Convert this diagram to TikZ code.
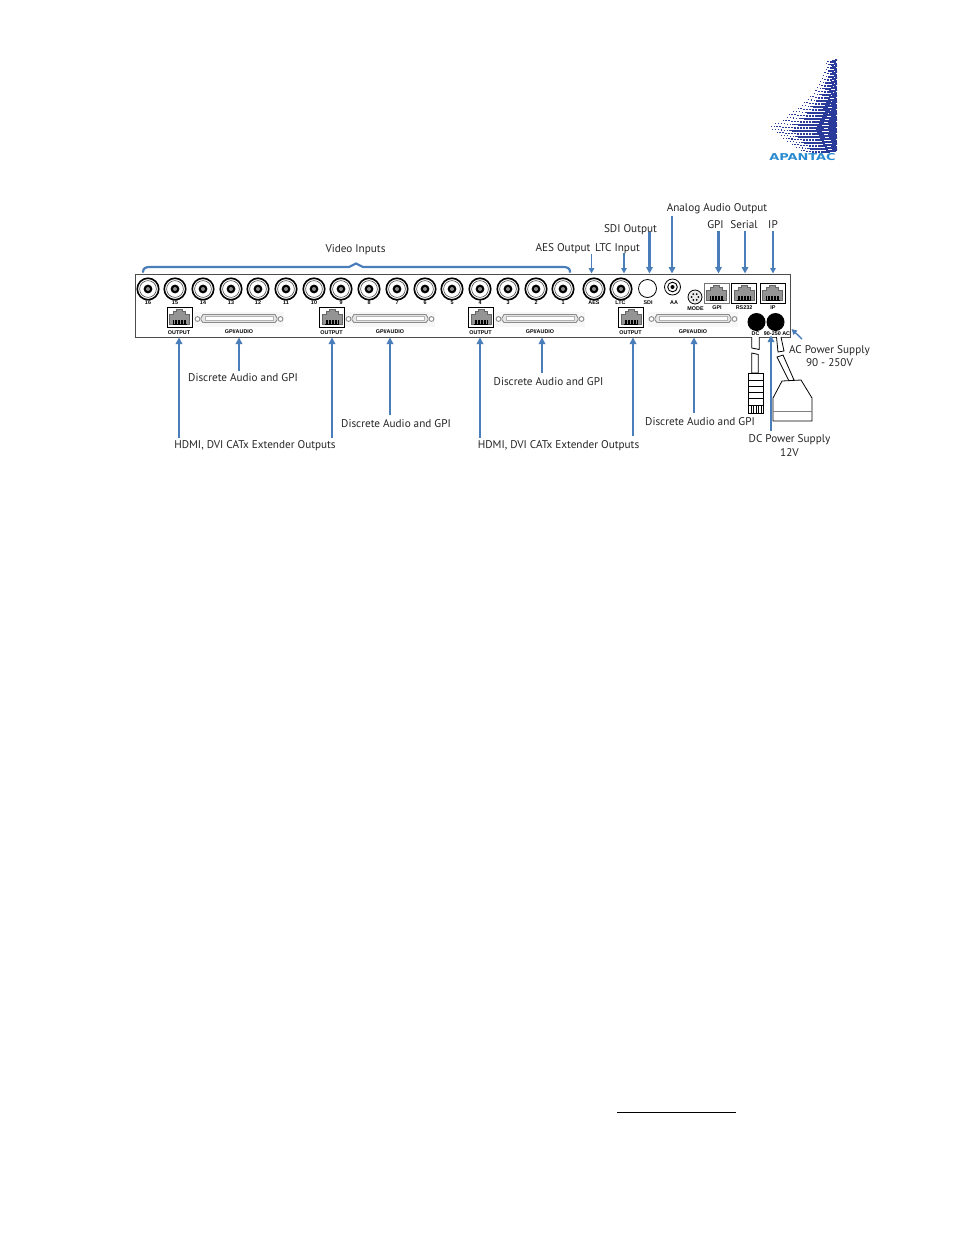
\documentclass[tikz,border=0pt]{standalone}
\usepackage{fontspec}
\setmainfont{PT Sans}
\newfontfamily\tinyf{Liberation Sans}
\newfontfamily\logof{DejaVu Sans}
\usetikzlibrary{arrows.meta}
\definecolor{arrowblue}{HTML}{4A7EBB}
\definecolor{logoblue}{HTML}{2A3A9A}
\definecolor{logocyan}{HTML}{2A8CD0}
\tikzset{
  lbl/.style={inner sep=0pt,yshift=-.8pt,font=\fontsize{11.2}{13}\selectfont,text=black!85},
  tiny/.style={inner sep=0pt,font=\tinyf\bfseries\fontsize{5.4}{6}\selectfont},
  arr/.style={arrowblue,line width=2.2pt,-{Triangle[length=6.5pt,width=6.5pt]}},
  thinarr/.style={arrowblue,line width=1.4pt,-{Triangle[length=5.5pt,width=5.5pt]}},
  jackbox/.style={draw=black,line width=1pt,fill=white,minimum width=25pt,minimum height=20pt,inner sep=0pt},
  bncnode/.style={circle,draw=black,line width=1.6pt,fill=white,minimum size=21.5pt,inner sep=0pt},
  cable/.style={draw=black,line width=.8pt,fill=white,line join=miter},
}
\newcommand{\bncat}[3]{%
  \node[bncnode] (#1) at (#2,#3) {};
  \draw[black!70,line width=.6pt] (#1) circle (8.4pt);
  \fill[black] (#1) circle (4.4pt);
  \fill[black!45] (#1) circle (2pt);
}
\newcommand{\jackat}[4][black]{%
  \node[jackbox,draw=#1] (#2) at (#3,#4) {};
  \begin{scope}[shift={(#3,#4)}]
    \draw[black!60,fill=black!42,line width=.4pt] (-10,7)--(-10,-3)--(-6,-3)--(-6,-5.5)--(-3,-5.5)--(-3,-7.5)--(3,-7.5)--(3,-5.5)--(6,-5.5)--(6,-3)--(10,-3)--(10,7)--cycle;
    \foreach \p in {-6,-4.5,...,6.1} \draw[black,line width=.55pt] (\p,3.2)--(\p,6.8);
    \draw[black,line width=.6pt] (-7,6.8)--(7,6.8);
  \end{scope}
}
\newcommand{\dsubat}[3]{%
  \node[fill=blue!4!black!3,minimum width=90pt,minimum height=15pt,inner sep=0pt] (#1) at (#2,#3) {};
  \begin{scope}[shift={(#2,#3)}]
    \draw[black!45,fill=white,line width=.9pt] (-41.5,0) circle (2.4pt) (41.5,0) circle (2.4pt);
    \draw[black!45,fill=black!10,line width=.9pt] (-38,-1)--(-36,-4.5)--(36,-4.5)--(38,-1)--(38,1)--(36,3.5)--(-36,3.5)--(-38,1)--cycle;
    \draw[black!30,fill=white,line width=.4pt] (-34,-2.5) rectangle (34,1.5);
  \end{scope}
}
\begin{document}
\begin{tikzpicture}[x=1pt,y=-1pt]
\useasboundingbox (0,0) rectangle (954,1235);
\fill[white] (0,0) rectangle (954,1235);

% logo halftone
\begin{scope}
\clip (760,59.5) rectangle (837,152);
\foreach \r in {0,...,30}{
  \pgfmathsetmacro{\v}{\r/30}
  \pgfmathsetmacro{\yr}{60+90*\v}
  \pgfmathsetmacro{\lx}{\v<=0.75 ? 826-58*(\v/0.75)*(\v/0.75) : 768+32*(\v-0.75)/0.25}
  \pgfmathsetmacro{\stag}{mod(\r,2)*1.5}
  \foreach \c in {0,...,24}{
    \pgfmathsetmacro{\xx}{837-\stag-3*\c}
    \ifdim \xx pt>\lx pt
      \pgfmathsetmacro{\u}{(837-\xx)/(837-\lx)}
      \pgfmathsetmacro{\sz}{3.4*(1-0.8*\u*\u)}
      \pgfmathsetmacro{\hh}{2.9*(1-0.75*\u)}
      \pgfmathsetmacro{\yy}{\yr+2*sin(180*\u)}
      \fill[logoblue] (\xx-\sz/2,\yy-\hh/2) rectangle (\xx+\sz/2,\yy+\hh/2);
    \fi
  }
}
\end{scope}
\node[inner sep=0pt,text=logocyan,xscale=1.36,font=\logof\bfseries\fontsize{9.5}{11}\selectfont] (logotext) at (802.5,157) {APANTAC};

% panel
\node[draw=black!70,line width=.9pt,fill=white,minimum width=655pt,minimum height=63pt,inner sep=0pt] (panel) at (463,305.5) {};

% BNC connectors
\foreach \n/\x in {16/148,15/175,14/203,13/231,12/258,11/286,10/314,9/341,8/369,7/397,6/425,5/452,4/480,3/508,2/536,1/563}{
  \bncat{b\n}{\x}{289}
  \node[tiny] (bl\n) at (\x,302.5) {\n};
}
\bncat{baes}{594}{289}
\node[tiny] (laes) at (594,302.5) {AES};
\bncat{bltc}{621}{289}
\node[tiny] (lltc) at (620.5,302.5) {LTC};
\node[circle,draw=black,line width=.8pt,minimum size=18pt,inner sep=0pt] (bsdi) at (647.5,288.5) {};
\node[tiny] (lsdi) at (648,302.5) {SDI};
\node[circle,draw=black,line width=.8pt,fill=white,minimum size=16pt,inner sep=0pt] (baa) at (672.5,287) {};
\draw[black,line width=.9pt] (baa) circle (4.8pt);
\fill[black] (baa) circle (2pt);
\node[tiny] (laa) at (674,302.5) {AA};
\node[circle,draw=black,line width=.8pt,fill=black!8,minimum size=14pt,inner sep=0pt] (mode) at (695,297) {};
\foreach \a in {0,60,...,300} \fill[black] (mode) ++(\a:3.4pt) circle (1pt);
\node[tiny] (lmode) at (695.5,308.5) {MODE};

% D connectors, then jacks over them
\foreach \n/\dx in {1/239,2/390,3/540,4/693}{
  \dsubat{ds\n}{\dx}{319}
  \node[tiny] (lds\n) at (\dx,331.5) {GPI/AUDIO};
}
\foreach \n/\x in {1/179.5,2/332,3/481,4/631}{
  \jackat{out\n}{\x}{317}
  \node[tiny] (lout\n) at (\x-.5,332.5) {OUTPUT};
}

% RJ45 jacks, upper
\jackat[black!55]{jgpi}{716.5}{293}
\node[tiny] (lgpi) at (717,308) {GPI};
\jackat{jrs}{744}{293}
\node[tiny] (lrs) at (744,308) {RS232};
\jackat{jip}{772.5}{293}
\node[tiny] (lip) at (773,308) {IP};

% Power sockets
\node[circle,fill=black,minimum size=18pt,inner sep=0pt] (dcs) at (756.5,322) {};
\node[circle,fill=black,minimum size=18pt,inner sep=0pt] (acs) at (775.5,322) {};

% cables
\draw[cable] (751.7,337)--(751.7,348)--(759.3,349.5)--(759.3,337);
\draw[cable] (751.7,353)--(758.3,354.5)--(758.3,373)--(751.7,373)--cycle;
\draw[cable] (748.5,373) rectangle (763.5,405);
\foreach \yy in {380,386,392,398} \draw[black,line width=.8pt] (748.5,\yy)--(763.5,\yy);
\draw[cable] (748.5,405) rectangle (763.5,413);
\foreach \xx in {751,753.5,756,758.5,761} \draw[black,line width=.8pt] (\xx,405)--(\xx,413);
\draw[cable] (776.5,337)--(778,352)--(784,351)--(781,337);
\draw[cable] (777,357)--(783,355)--(794,380)--(789,381)--cycle;
\draw[cable] (782,381)--(801,380)--(812,398)--(812,421)--(773,421)--(773,398)--cycle;
\draw[black!50,line width=.8pt] (773,411)--(812,411);

\node[tiny] (ldc) at (755.5,333.5) {DC};
\node[tiny] (lac) at (777,333.5) {90-250 AC};

% brace
\draw[arrowblue,line width=2.2pt,line cap=round] (143,272) .. controls (143,268) and (146,267) .. (150,267) -- (349,267) .. controls (352,267) and (353,263.5) .. (356,263.5) .. controls (359,263.5) and (360,267) .. (363,267) -- (563,267) .. controls (567,267) and (570,268) .. (570,272);

% labels
\node[lbl] (tvideo) at (355.5,249) {Video Inputs};
\node[lbl] (taes) at (563,248) {AES Output};
\node[lbl] (tltc) at (617.5,248) {LTC Input};
\node[lbl] (tsdi) at (630.5,229) {SDI Output};
\node[lbl] (taa) at (717,207.5) {Analog Audio Output};
\node[lbl] (tgpi) at (715.5,223.7) {GPI};
\node[lbl] (tser) at (744,223.7) {Serial};
\node[lbl] (tip) at (773,223.7) {IP};
\node[lbl,align=center] (tac) at (829.5,355) {AC Power Supply\\90 - 250V};
\node[lbl,align=center,font=\fontsize{11.2}{14}\selectfont] (tdc) at (789.5,444.5) {DC Power Supply\\12V};
\node[lbl] (td1) at (243,376.5) {Discrete Audio and GPI};
\node[lbl] (td2) at (396,422.5) {Discrete Audio and GPI};
\node[lbl] (td3) at (548.5,380.5) {Discrete Audio and GPI};
\node[lbl] (td4) at (700,420.5) {Discrete Audio and GPI};
\node[lbl] (th1) at (255,445) {HDMI, DVI CATx Extender Outputs};
\node[lbl] (th2) at (558.5,445) {HDMI, DVI CATx Extender Outputs};

% arrows up to the lower edge of the panel
\foreach \n/\x/\sy in {a/179/438,b/332/438,c/480/438,d/633/436,e/239/371,f/390/415,g/542/373,h/694/413}{
  \coordinate (up\n) at (\x,\sy);
  \coordinate (upe\n) at (\x,337.5);
  \draw[arr] (up\n) -- (upe\n);
}
\coordinate (updc) at (771,431);
\coordinate (updce) at (771,335.5);
\draw[arr] (updc) -- (updce);

% arrows down to the upper edge of the panel
\foreach \n/\x/\sy in {sdi/649.5/232,aa/672/216,gpi/718.5/231,ser/745/231}{
  \coordinate (dn\n) at (\x,\sy);
  \coordinate (dne\n) at (\x,273.5);
  \draw[arr] (dn\n) -- (dne\n);
}
\foreach \n/\x/\sy in {aes/591.5/254,ltc/624/253,ip/773/231}{
  \coordinate (dn\n) at (\x,\sy);
  \coordinate (dne\n) at (\x,273.5);
  \draw[thinarr] (dn\n) -- (dne\n);
}
\coordinate (acs1) at (802,339);
\coordinate (ace1) at (791.5,329);
\draw[thinarr] (acs1) -- (ace1);

% footer rule
\coordinate (rule1) at (617,1112);
\coordinate (rule2) at (736,1112);
\draw[black,line width=.8pt] (rule1) -- (rule2);
\end{tikzpicture}
\end{document}
